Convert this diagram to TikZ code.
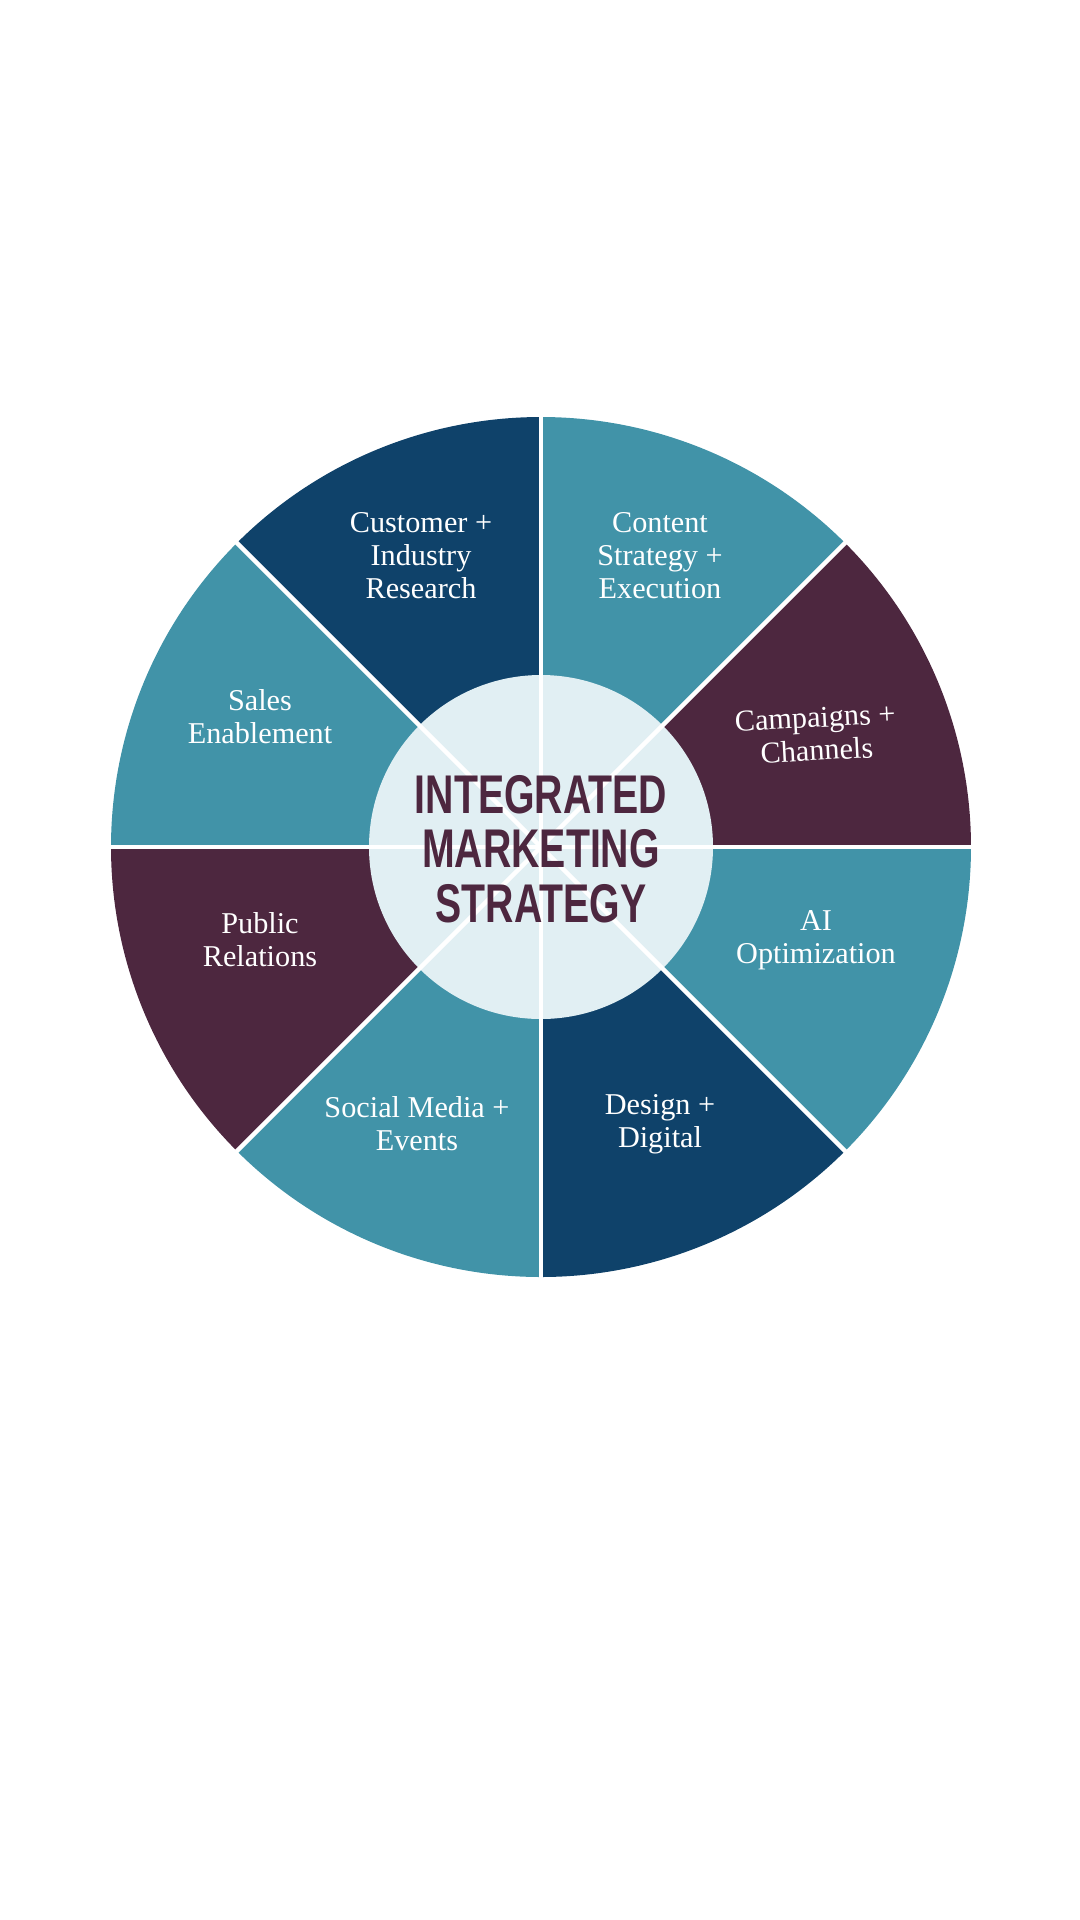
\documentclass[tikz,border=0pt]{standalone}
\usepackage{fontspec}
\setmainfont{Liberation Serif}
\setsansfont{Liberation Sans}
\definecolor{tealseg}{HTML}{4193A8}
\definecolor{navyseg}{HTML}{0F426A}
\definecolor{plumseg}{HTML}{4D273F}
\definecolor{hubfill}{HTML}{E1EFF3}
\begin{document}
\begin{tikzpicture}[x=0.01cm, y=-0.01cm,
	seglabel/.style={align=center, text=white, font=\fontsize{8.6}{9.4}\selectfont}]
	\useasboundingbox (0,0) rectangle (1080,1920);
	% Sectors (y axis points down, so angles run clockwise)
	\foreach \a/\c in {-90/tealseg, -45/plumseg, 0/tealseg, 45/navyseg, 90/tealseg, 135/plumseg, 180/tealseg, 225/navyseg}
		\fill [\c] (541,847) -- ++(\a:430) arc [start angle=\a, delta angle=45, radius=430] -- cycle;
	\fill [hubfill] (541,847) circle [radius=172];
	% Dividers
	\foreach \a in {0,45,90,135}
		\draw [white, line width=0.45mm] (541,847) ++(\a:431) -- ++(\a+180:862);
	% Labels
	\node [seglabel] (cust) at (421,556) {Customer +\\Industry\\Research};
	\node [seglabel] (cont) at (660,556) {Content\\Strategy +\\Execution};
	\node [seglabel, rotate=3] (camp) at (816,734) {Campaigns +\\Channels};
	\node [seglabel] (sales) at (260,717) {Sales\\Enablement};
	\node [seglabel] (ai) at (816,940) {AI\\Optimization};
	\node [seglabel] (pr) at (260,940) {Public\\Relations};
	\node [seglabel] (social) at (417,1124) {Social Media +\\Events};
	\node [seglabel] (design) at (660,1124) {Design +\\Digital};
	\node [align=center, text=plumseg, font=\sffamily\bfseries\fontsize{15.5}{15.5}\selectfont, xscale=0.72] (hub) at (541,849) {INTEGRATED\\MARKETING\\STRATEGY};
\end{tikzpicture}
\end{document}
